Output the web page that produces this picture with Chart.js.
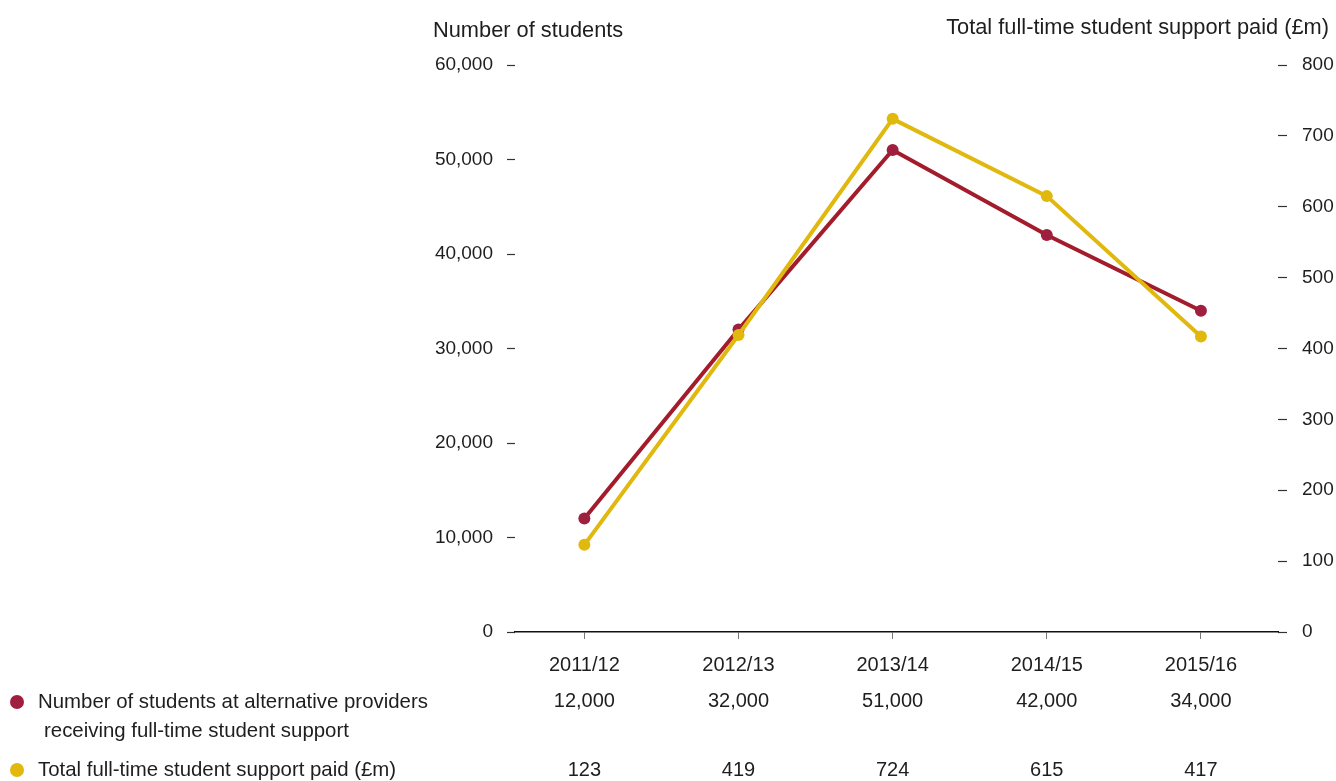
<!DOCTYPE html>
<html>
<head>
<meta charset="utf-8">
<script src="https://cdn.jsdelivr.net/npm/chart.js@4/dist/chart.umd.min.js"></script>
<style>
html,body{margin:0;padding:0;background:#fff;}
canvas{display:block;}
</style>
</head>
<body>
<canvas id="c" width="1336" height="781"></canvas>
<script>
const categories = ['2011/12', '2012/13', '2013/14', '2014/15', '2015/16'];
const students = [12000, 32000, 51000, 42000, 34000];
const supportPaid = [123, 419, 724, 615, 417];
const studentLabels = ['12,000', '32,000', '51,000', '42,000', '34,000'];
const supportLabels = ['123', '419', '724', '615', '417'];
const leftTicks = [0, 10000, 20000, 30000, 40000, 50000, 60000];
const rightTicks = [0, 100, 200, 300, 400, 500, 600, 700, 800];
const seriesNames = [['Number of students at alternative providers', 'receiving full-time student support'], ['Total full-time student support paid (£m)']];
const axisTitles = ['Number of students', 'Total full-time student support paid (£m)'];

const RED = '#a31c2b', RED_PT = '#9e1f3e', YEL = '#e1b80d';
const FONT = '"Liberation Sans", Arial, sans-serif';
const TXT = '#1e1e1e';

const tablePlugin = {
  id: 'table',
  afterDraw(chart) {
    const ctx = chart.ctx;
    const xs = chart.scales.x;
    ctx.save();
    ctx.fillStyle = TXT;
    ctx.textBaseline = 'middle';
    // axis titles
    ctx.font = '21.8px ' + FONT;
    ctx.textAlign = 'left';
    ctx.fillText(axisTitles[0], 433, 31);
    ctx.textAlign = 'right';
    ctx.fillText(axisTitles[1], 1329, 28);
    // table
    ctx.font = '20px ' + FONT;
    ctx.textAlign = 'center';
    categories.forEach((c, i) => {
      const x = xs.getPixelForValue(i);
      ctx.fillText(c, x, 665);
      ctx.fillText(studentLabels[i], x, 701);
      ctx.fillText(supportLabels[i], x, 770);
    });
    // legend
    ctx.font = '20.4px ' + FONT;
    ctx.textAlign = 'left';
    ctx.fillText(seriesNames[0][0], 38, 702);
    ctx.fillText(seriesNames[0][1], 44, 731);
    ctx.fillText(seriesNames[1][0], 38, 770);
    ctx.fillStyle = RED_PT;
    ctx.beginPath(); ctx.arc(17, 702, 7, 0, Math.PI * 2); ctx.fill();
    ctx.fillStyle = YEL;
    ctx.beginPath(); ctx.arc(17, 770, 7, 0, Math.PI * 2); ctx.fill();
    ctx.restore();
  }
};

new Chart(document.getElementById('c'), {
  type: 'line',
  data: {
    datasets: [
      {
        label: seriesNames[0].join(' '),
        data: students.map((v, i) => ({x: i, y: v})),
        yAxisID: 'y',
        borderColor: RED,
        backgroundColor: RED_PT,
        pointBackgroundColor: RED_PT,
        pointBorderWidth: 0,
        pointRadius: 6,
        borderWidth: 4,
        tension: 0,
        order: 1
      },
      {
        label: seriesNames[1][0],
        data: supportPaid.map((v, i) => ({x: i, y: v})),
        yAxisID: 'y1',
        borderColor: YEL,
        backgroundColor: YEL,
        pointBackgroundColor: YEL,
        pointBorderWidth: 0,
        pointRadius: 6,
        borderWidth: 4,
        tension: 0,
        order: 0
      }
    ]
  },
  options: {
    responsive: false,
    animation: false,
    layout: {padding: {top: 65, left: 0, right: 0, bottom: 0}},
    plugins: {legend: {display: false}, tooltip: {enabled: false}},
    scales: {
      x: {
        type: 'linear',
        min: -0.45,
        max: 4.5,
        afterBuildTicks(s) { s.ticks = categories.map((c, i) => ({value: i})); },
        afterFit(s) { s.height = 781 - 632; },
        ticks: {display: false},
        grid: {drawOnChartArea: false, drawTicks: true, tickLength: 7, tickColor: '#777', tickWidth: 1},
        border: {display: true, color: '#111', width: 1.5}
      },
      y: {
        type: 'linear',
        position: 'left',
        min: 0,
        max: 60000,
        afterBuildTicks(s) { s.ticks = leftTicks.map(v => ({value: v})); },
        afterFit(s) { s.width = 515; },
        ticks: {
          color: TXT,
          font: {family: FONT, size: 19},
          padding: 14,
          callback: v => v.toLocaleString('en-GB')
        },
        grid: {drawOnChartArea: false, drawTicks: true, tickLength: 8, tickColor: '#333', tickWidth: 1.2},
        border: {display: false}
      },
      y1: {
        type: 'linear',
        position: 'right',
        min: 0,
        max: 800,
        afterBuildTicks(s) { s.ticks = rightTicks.map(v => ({value: v})); },
        afterFit(s) { s.width = 1336 - 1278; },
        ticks: {
          color: TXT,
          font: {family: FONT, size: 19},
          padding: 15,
          callback: v => String(v)
        },
        grid: {drawOnChartArea: false, drawTicks: true, tickLength: 9, tickColor: '#333', tickWidth: 1.2},
        border: {display: false}
      }
    }
  },
  plugins: [tablePlugin]
});
</script>
</body>
</html>
